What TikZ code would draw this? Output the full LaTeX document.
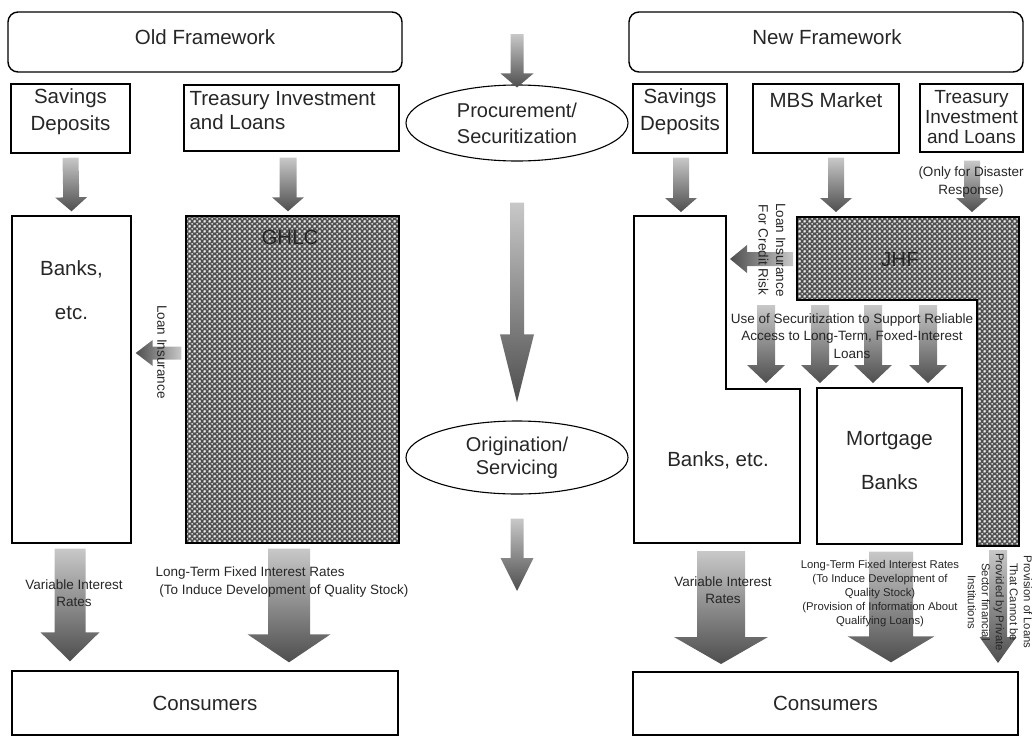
\documentclass[tikz,border=0pt]{standalone}
\usepackage{fontspec}
\setmainfont{Liberation Sans}
\usetikzlibrary{calc, patterns, shapes.geometric}

\definecolor{arrlight}{HTML}{C8C8C8}
\definecolor{arrdark}{HTML}{4E4E4E}
\definecolor{hatchgray}{HTML}{505050}

% fine dotted fill for GHLC / JHF
\pgfdeclarepatternformonly{jhfdots}{\pgfpointorigin}{\pgfpoint{5pt}{5pt}}{\pgfpoint{5pt}{5pt}}{%
  \pgfpathcircle{\pgfpoint{2.5pt}{2.5pt}}{1.1pt}
  \pgfpathcircle{\pgfpointorigin}{1.1pt}
  \pgfpathcircle{\pgfpoint{5pt}{0pt}}{1.1pt}
  \pgfpathcircle{\pgfpoint{0pt}{5pt}}{1.1pt}
  \pgfpathcircle{\pgfpoint{5pt}{5pt}}{1.1pt}
  \pgfusepath{fill}}

\tikzset{
  outline/.style={draw, line width=1.4pt, inner sep=0pt},
  fwbox/.style={outline, rounded corners=10pt},
  stage/.style={draw, ellipse, line width=1.1pt, inner sep=0pt, align=center},
  hatched/.style={draw, line width=1.4pt, preaction={fill=hatchgray}, pattern=jhfdots, pattern color=white},
  downfill/.style={top color=arrlight, bottom color=arrdark, draw=none},
  leftfill/.style={left color=arrdark, right color=arrlight, draw=none},
  bigtext/.style={font=\fontsize{20.5}{27}\selectfont, align=center},
  widetext/.style={font=\fontsize{20.5}{44}\selectfont, align=center},
  smalltext/.style={font=\fontsize{13.5}{17.5}\selectfont, align=center},
  tinytext/.style={font=\fontsize{11.3}{14}\selectfont, align=center},
}

% block arrow: [style]{tail}{tip}{shaft width}{head width}{head length}
\newcommand{\blockarrow}[6][downfill]{%
  \coordinate (ba-t) at (#2);
  \coordinate (ba-h) at (#3);
  \coordinate (ba-b) at ($(ba-h)!#6!(ba-t)$);
  \path[#1] ($(ba-t)!#4/2!90:(ba-h)$) -- ($(ba-b)!#4/2!90:(ba-h)$)
    -- ($(ba-b)!#5/2!90:(ba-h)$) -- (ba-h)
    -- ($(ba-b)!#5/2!-90:(ba-h)$) -- ($(ba-b)!#4/2!-90:(ba-h)$)
    -- ($(ba-t)!#4/2!-90:(ba-h)$) -- cycle;
}

\begin{document}
\begin{tikzpicture}[x=1pt, y=-1pt, every node/.style={text=black!85}]

\useasboundingbox (0,0) rectangle (1035,736);

% frameworks
\node[fwbox, minimum width=394pt, minimum height=60pt] (oldfw) at (205,42) {};
\node[bigtext] (oldfwlbl) at (205,37) {Old Framework};
\node[fwbox, minimum width=394pt, minimum height=60pt] (newfw) at (826,42) {};
\node[bigtext] (newfwlbl) at (827,37) {New Framework};

% old framework: sources
\node[outline, minimum width=119pt, minimum height=69pt] (savL) at (70.5,118.5) {};
\node[bigtext] (savLlbl) at (70.5,112) {Savings\\Deposits};
\node[outline, minimum width=215pt, minimum height=66pt] (treasL) at (291.5,118) {};
\node[font=\fontsize{20.5}{24}\selectfont, align=left, anchor=west] (treasLlbl) at (186,111) {Treasury Investment\\and Loans};

% old framework: lenders
\node[outline, minimum width=119pt, minimum height=327pt] (banksL) at (71.5,379.5) {};
\node[widetext] (banksLlbl) at (71.5,290) {Banks,\\etc.};
\node[hatched, inner sep=0pt, minimum width=213pt, minimum height=327pt] (ghlc) at (292.5,379.5) {};
\node[bigtext] (ghlclbl) at (290,237) {GHLC};

\node[outline, minimum width=386pt, minimum height=64pt, bigtext] (consL) at (205,703) {Consumers};

% stages
\node[stage, minimum width=222pt, minimum height=76pt, font=\fontsize{20}{26}\selectfont] (procur) at (517,123) {Procurement/\\Securitization};
\node[stage, minimum width=222pt, minimum height=73pt, font=\fontsize{20}{23}\selectfont] (orig) at (517,457.5) {Origination/\\Servicing};
\coordinate (topin) at (517,34);
\coordinate (botout) at (517,591);

% new framework: sources
\node[outline, minimum width=94pt, minimum height=69pt] (savR) at (680,118.5) {};
\node[bigtext] (savRlbl) at (680,112) {Savings\\Deposits};
\node[outline, minimum width=146pt, minimum height=69pt] (mbs) at (826,118.5) {};
\node[bigtext] (mbslbl) at (826,100) {MBS Market};
\node[outline, minimum width=103pt, minimum height=68pt] (treasR) at (971.5,118) {};
\node[font=\fontsize{19}{20}\selectfont, align=center] (treasRlbl) at (971.5,117) {Treasury\\Investment\\and Loans};

% new framework: banks (L shape) and JHF (L shape)
\coordinate (bR-nw) at (634,216);
\coordinate (bR-ne) at (726,216);
\coordinate (bR-step) at (726,389);
\coordinate (bR-in) at (800,389);
\coordinate (bR-se) at (800,543);
\coordinate (bR-sw) at (634,543);
\draw[line width=1.4pt] (bR-nw) -- (bR-ne) -- (bR-step) -- (bR-in) -- (bR-se) -- (bR-sw) -- cycle;

\coordinate (j-nw) at (797,217);
\coordinate (j-ne) at (1019,217);
\coordinate (j-se) at (1019,546);
\coordinate (j-sw) at (977,546);
\coordinate (j-in) at (977,300);
\coordinate (j-w) at (797,300);
\draw[hatched] (j-nw) -- (j-ne) -- (j-se) -- (j-sw) -- (j-in) -- (j-w) -- cycle;

\node[outline, minimum width=145pt, minimum height=156pt] (mortg) at (889.5,466) {};
\node[outline, minimum width=385pt, minimum height=63pt, bigtext] (consR) at (825.5,703.5) {Consumers};

% arrows, old framework
\blockarrow{$(savL.south)+(0,4)$}{$(banksL.north)+(0,-4)$}{16pt}{32pt}{14pt}
\blockarrow{$(treasL.south)+(-3.5,6)$}{$(ghlc.north)+(-4.5,-4)$}{17pt}{32pt}{14pt}
\blockarrow[leftfill]{$(ghlc.west)+(-4,-26.5)$}{$(banksL.east)+(4,-26.5)$}{13pt}{26pt}{17pt}
\blockarrow{$(banksL.south)+(-1.5,5)$}{$(banksL.south |- consL.north)+(-1.5,-9)$}{31pt}{59pt}{29pt}
\blockarrow{$(ghlc.south)+(-3.5,5)$}{$(ghlc.south |- consL.north)+(-3.5,-8)$}{42pt}{83pt}{28pt}

% arrows, stages
\blockarrow{topin}{$(procur.north)+(0,3)$}{13pt}{33pt}{14pt}
\blockarrow{$(procur.south)+(0,41)$}{$(orig.north)+(0,-18)$}{14pt}{34pt}{68pt}
\blockarrow{$(orig.south)+(0,24)$}{botout}{13pt}{33pt}{33pt}

% arrows, new framework
\blockarrow{$(savR.south)+(1,4)$}{$(savR.south |- bR-nw)+(1,-4)$}{16pt}{32pt}{14pt}
\blockarrow{$(mbs.south)+(10,4)$}{$(mbs.south |- j-nw)+(10,-5)$}{16pt}{32pt}{14pt}
\blockarrow{$(treasR.south)+(0.5,8)$}{$(treasR.south |- j-nw)+(0.5,-5)$}{16pt}{32pt}{14pt}
\blockarrow[leftfill]{$(j-nw)+(-4,42)$}{$(bR-ne)+(4,43)$}{14pt}{28pt}{17pt}
\foreach \ax in {766,820,873,928}
  \blockarrow{\ax,305}{\ax,383}{18pt}{38pt}{18pt};
\blockarrow{$(bR-sw)!0.5!(bR-se)+(4,8)$}{$(bR-sw)!0.5!(bR-se)+(4,121)$}{48pt}{94pt}{27pt}
\blockarrow{$(mortg.south)+(1.5,7)$}{$(mortg.south |- consR.north)+(1.5,-9)$}{44pt}{87pt}{26pt}
\blockarrow{$(j-sw)!0.5!(j-se)+(0,4)$}{$(j-sw)!0.5!(j-se)+(0,117)$}{18pt}{37pt}{26pt}

% texts over the arrows
\node[smalltext, rotate=-90] (insL) at (162,352) {Loan Insurance};
\node[smalltext] (varL) at (74,593) {Variable Interest\\Rates};
\node[smalltext, align=left, anchor=west] (fixL) at (152,582) {Long-Term Fixed Interest Rates\\\ (To Induce Development of Quality Stock)};

\node[smalltext] (disaster) at (971,182) {(Only for Disaster\\Response)};
\node[smalltext, rotate=-90] (credit) at (772,250) {Loan Insurance\\For Credit Risk};
\node[bigtext] (jhflbl) at (900,260) {JHF};
\node[smalltext] (secur) at (852,336) {Use of Securitization to Support Reliable\\Access to Long-Term, Foxed-Interest\\Loans};
\node[bigtext] (banksRlbl) at (718,460) {Banks, etc.};
\node[widetext] (mortglbl) at (889.5,461) {Mortgage\\Banks};
\node[smalltext] (varR) at (723,590) {Variable Interest\\Rates};
\node[tinytext] (fixR) at (880,594) {Long-Term Fixed Interest Rates\\(To Induce Development of\\Quality Stock)\\(Provision of Information About\\Qualifying Loans)};
\node[tinytext, rotate=-90] (provis) at (1000,602) {Provision of Loans\\That Cannot be\\Provided by Private\\Sector financial\\Institutions};

\end{tikzpicture}
\end{document}
